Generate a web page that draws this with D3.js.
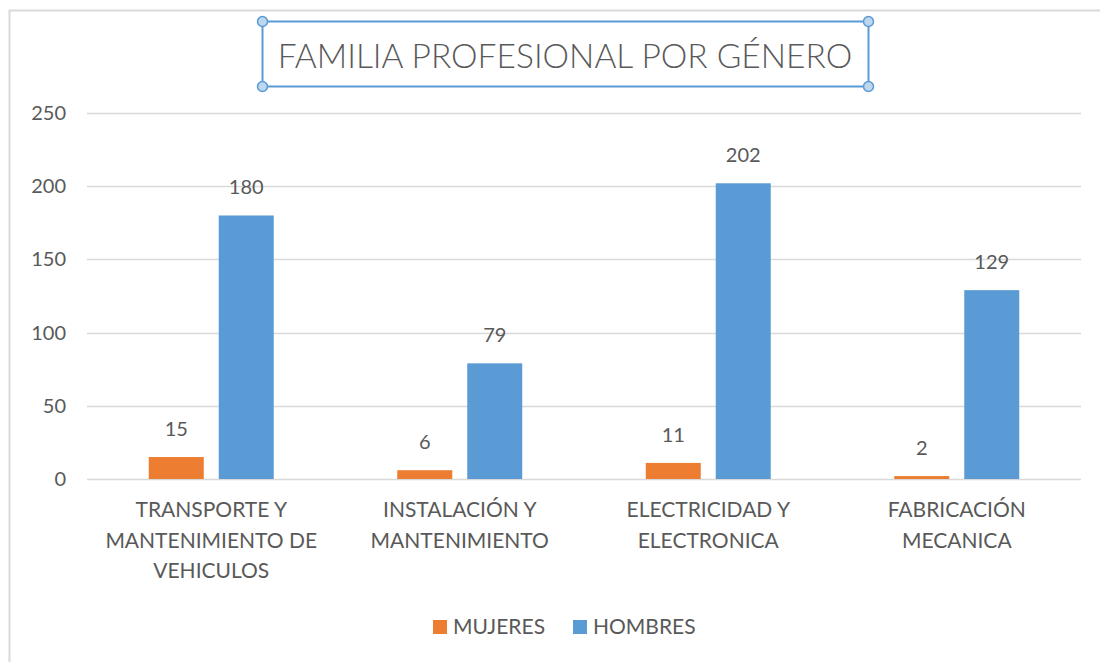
<!DOCTYPE html>
<html>
<head>
<meta charset="utf-8">
<script src="https://cdn.jsdelivr.net/npm/d3@7"></script>
<style>
  body { margin: 0; background: #fff; }
  text { font-family: Lato, "Open Sans", sans-serif; fill: #595959; }
</style>
</head>
<body>
<svg width="1100" height="662"></svg>
<script>
var categories = [
  ["TRANSPORTE Y", "MANTENIMIENTO DE", "VEHICULOS"],
  ["INSTALACIÓN Y", "MANTENIMIENTO"],
  ["ELECTRICIDAD Y", "ELECTRONICA"],
  ["FABRICACIÓN", "MECANICA"]
];
var mujeres = [15, 6, 11, 2];
var hombres = [180, 79, 202, 129];
var seriesNames = ["MUJERES", "HOMBRES"];
var colors = ["#ED7D31", "#5B9BD5"];
var yTicks = [0, 50, 100, 150, 200, 250];

var svg = d3.select("svg");
var plotLeft = 87, plotRight = 1081, plotTop = 113, plotBottom = 479;

// chart frame (only left/top edges are inside the picture)
svg.append("path")
  .attr("d", "M9.5,662 L9.5,10.5 L1100,10.5")
  .attr("fill", "none")
  .attr("stroke", "#d9d9d9")
  .attr("stroke-width", 2);

var x0 = d3.scaleBand().domain(d3.range(categories.length)).range([plotLeft, plotRight]);
var x1 = d3.scaleBand().domain([0, 1]).range([0, 125]).paddingInner(0.214);
var y = d3.scaleLinear().domain([0, 250]).range([plotBottom, plotTop]);

var grid = svg.append("g");
grid.selectAll("line").data(yTicks).enter().append("line")
  .attr("x1", plotLeft).attr("x2", plotRight)
  .attr("y1", function(d){ return Math.round(y(d)) + 0.5; })
  .attr("y2", function(d){ return Math.round(y(d)) + 0.5; })
  .attr("stroke", "#d9d9d9")
  .attr("stroke-width", 1.5);

var yAxis = d3.axisLeft(y).tickValues(yTicks).tickSize(0).tickPadding(0);
var ya = svg.append("g").attr("transform", "translate(66,0)").call(yAxis);
ya.select(".domain").remove();
ya.selectAll("text").style("font-size", "20px").attr("fill", "#595959")
  .style("font-family", "Lato, sans-serif");

var rows = categories.map(function(c, i){ return [mujeres[i], hombres[i]]; });

var groups = svg.append("g").selectAll("g").data(rows).enter().append("g")
  .attr("transform", function(d, i){
    return "translate(" + (x0(i) + (x0.bandwidth() - 125) / 2) + ",0)";
  });

groups.selectAll("rect").data(function(d){ return d; }).enter().append("rect")
  .attr("x", function(d, j){ return x1(j); })
  .attr("y", function(d){ return y(d); })
  .attr("width", x1.bandwidth())
  .attr("height", function(d){ return plotBottom - y(d); })
  .attr("fill", function(d, j){ return colors[j]; });

groups.selectAll("text.val").data(function(d){ return d; }).enter().append("text")
  .attr("class", "val")
  .attr("x", function(d, j){ return x1(j) + x1.bandwidth() / 2; })
  .attr("y", function(d){ return y(d) - 21; })
  .attr("text-anchor", "middle")
  .style("font-size", "20px")
  .text(function(d){ return d; });

// category labels
var cat = svg.append("g").selectAll("text").data(categories).enter().append("text")
  .attr("text-anchor", "middle")
  .style("font-size", "21px")
  .attr("transform", function(d, i){ return "translate(" + (x0(i) + x0.bandwidth() / 2) + ",517)"; });
cat.selectAll("tspan").data(function(d){ return d; }).enter().append("tspan")
  .attr("x", 0)
  .attr("y", function(d, k){ return k * 30.5; })
  .text(function(d){ return d; });

// title with selection box
svg.append("rect")
  .attr("x", 262.5).attr("y", 21.5).attr("width", 606).attr("height", 65)
  .attr("fill", "none").attr("stroke", "#5B9BD5").attr("stroke-width", 2);
svg.append("g").selectAll("circle")
  .data([[262.5, 21.5], [868.5, 21.5], [262.5, 86.5], [868.5, 86.5]])
  .enter().append("circle")
  .attr("cx", function(d){ return d[0]; })
  .attr("cy", function(d){ return d[1]; })
  .attr("r", 5)
  .attr("fill", "#BDD7EE").attr("stroke", "#5B9BD5").attr("stroke-width", 1.5);
svg.append("text")
  .attr("x", 565).attr("y", 68)
  .attr("text-anchor", "middle")
  .style("font-size", "33.5px")
  .style("font-weight", 300)
  .text("FAMILIA PROFESIONAL POR GÉNERO");

// legend
var legX = [433, 573];
var leg = svg.append("g").selectAll("g").data(seriesNames).enter().append("g")
  .attr("transform", function(d, i){ return "translate(" + legX[i] + ",620)"; });
leg.append("rect").attr("width", 14).attr("height", 14)
  .attr("fill", function(d, i){ return colors[i]; });
leg.append("text").attr("x", 20).attr("y", 14)
  .style("font-size", "21px")
  .text(function(d){ return d; });
</script>
</body>
</html>
